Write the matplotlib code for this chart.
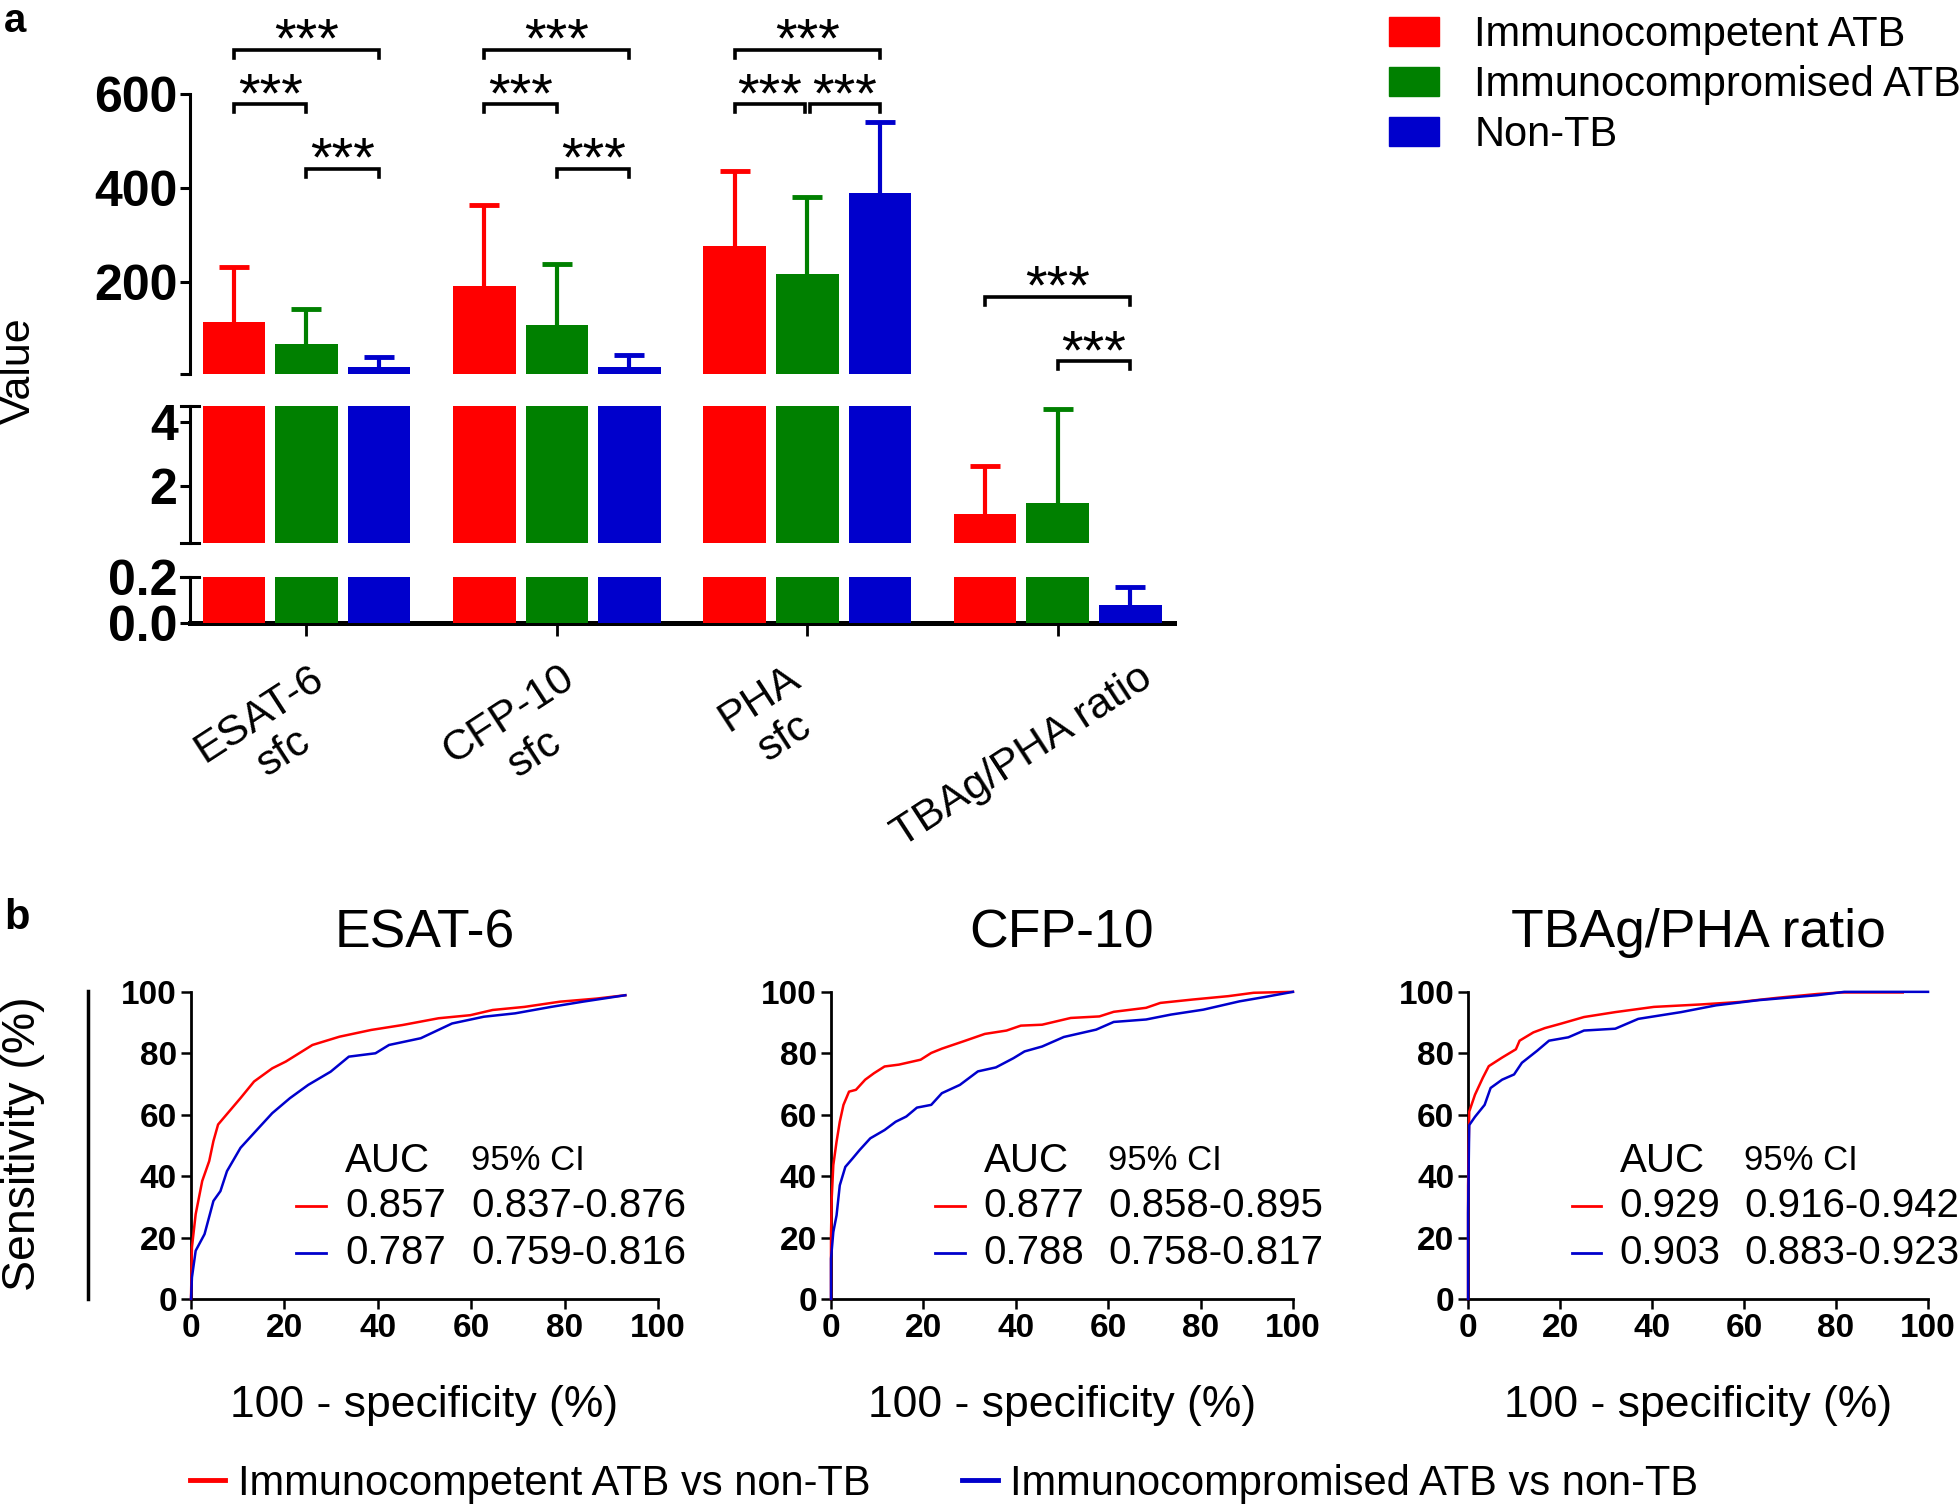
import numpy as np
import matplotlib.pyplot as plt
from matplotlib.lines import Line2D
from matplotlib.patches import Patch
from matplotlib.transforms import ScaledTranslation
plt.switch_backend('agg')

plt.rcParams['font.family'] = ['Liberation Sans', 'DejaVu Sans']

# ---- panel a data ----
groups = ['ESAT-6\nsfc', 'CFP-10\nsfc', 'PHA\nsfc', 'TBAg/PHA ratio']
series = ['Immunocompetent ATB', 'Immunocompromised ATB', 'Non-TB']
colors = ['#FF0000', '#008000', '#0000CC']
competent_mean = [115, 192, 277, 1.10]
competent_sd = [117, 173, 160, 1.51]
compromised_mean = [68, 110, 217, 1.47]
compromised_sd = [75, 129, 163, 2.94]
nontb_mean = [20, 20, 390, 0.08]
nontb_sd = [22, 25, 150, 0.077]
# brackets: (group, bar i, bar j, height)
brackets = [(0, 0, 2, 694), (0, 0, 1, 578), (0, 1, 2, 441),
            (1, 0, 2, 694), (1, 0, 1, 578), (1, 1, 2, 441),
            (2, 0, 2, 694), (2, 0, 1, 578), (2, 1, 2, 578),
            (3, 0, 2, 169), (3, 1, 2, 32)]

# ---- panel b data ----
esat_red_x = [0, 0.2, 1, 2.4, 3.9, 4.8, 5.8, 8.2, 10.6, 13.5, 17.4, 20.3, 26, 31.8, 38.6, 45.3, 53, 59.8, 64.6, 71.4, 79, 86.8, 93]
esat_red_y = [0, 16.8, 27.6, 38.4, 44.9, 51.4, 56.8, 61.1, 65.4, 70.8, 75.1, 77.3, 82.7, 85.4, 87.6, 89.2, 91.4, 92.4, 94.1, 95.1, 96.8, 97.8, 98.9]
esat_blue_x = [0, 0.2, 1, 2.9, 4.8, 6.3, 7.7, 10.6, 14.5, 17.4, 21.2, 25.1, 29.9, 33.8, 39.5, 42.4, 49.2, 55.9, 62.7, 69.4, 77.1, 83.9, 93]
esat_blue_y = [0, 7, 15.7, 21.1, 31.9, 35.1, 41.6, 49.2, 55.7, 60.5, 65.4, 69.7, 74, 78.9, 80, 82.7, 84.9, 89.7, 91.9, 93, 95.1, 96.8, 98.9]
cfp_red_x = [0, 0, 0.15, 0.5, 1.2, 1.9, 2.7, 3.9, 5.4, 7.4, 9.3, 11.6, 14.7, 19.4, 21.7, 24, 28.7, 33.3, 38, 41.1, 45.7, 51.9, 58.1, 61.2, 68.2, 71.3, 78.3, 86, 91.5, 100]
cfp_red_y = [0, 20.7, 32.7, 43.6, 51.2, 57.7, 63.2, 67.5, 68.1, 71.4, 73.5, 75.7, 76.3, 77.9, 80.1, 81.5, 83.9, 86.3, 87.4, 89, 89.3, 91.5, 92, 93.5, 94.8, 96.4, 97.5, 98.6, 99.7, 100]
cfp_blue_x = [0, 0, 0.5, 1.2, 1.9, 3.1, 4.7, 6.2, 8.5, 11.6, 14, 16.3, 18.6, 21.7, 24, 27.9, 31.8, 35.7, 39.5, 41.9, 45.7, 50.4, 57.4, 61.2, 68.2, 73.6, 80.6, 88.4, 93.8, 100]
cfp_blue_y = [0, 13.1, 21.8, 27.2, 37, 43, 45.8, 48.5, 52.3, 55, 57.7, 59.4, 62.3, 63.2, 67, 69.7, 74.1, 75.4, 78.4, 80.6, 82.2, 85.3, 87.7, 90.2, 91, 92.6, 94.2, 96.9, 98.3, 100]
ratio_red_x = [0, 0, 0.25, 1.5, 3.2, 4.5, 7.4, 10.4, 11.2, 14.2, 16.7, 20.1, 25.2, 32, 40.4, 50.6, 59, 67.5, 75.9, 81, 94.5]
ratio_red_y = [0, 36.8, 61, 66.5, 72, 75.8, 78.6, 81.3, 84.1, 86.8, 88.2, 89.6, 91.8, 93.4, 95.1, 95.9, 96.7, 98.1, 99.3, 99.8, 99.8]
ratio_blue_x = [0, 0, 0.25, 1.5, 3.6, 4.9, 7.4, 10, 11.7, 15, 17.6, 21.8, 25.2, 32, 37, 46.3, 53.9, 63.2, 75.9, 81.8, 100]
ratio_blue_y = [0, 28, 56.6, 59.3, 63.2, 68.7, 71.4, 73.1, 76.9, 80.8, 84.1, 85.2, 87.4, 88, 91.2, 93.4, 95.6, 97.3, 98.9, 100, 100]
roc_titles = ['ESAT-6', 'CFP-10', 'TBAg/PHA ratio']
roc_auc = [['0.857', '0.787'], ['0.877', '0.788'], ['0.929', '0.903']]
roc_ci = [['0.837-0.876', '0.759-0.816'], ['0.858-0.895', '0.758-0.817'], ['0.916-0.942', '0.883-0.923']]
roc_labels = ['Immunocompetent ATB vs non-TB', 'Immunocompromised ATB vs non-TB']

fig = plt.figure(figsize=(19.59, 15.06), dpi=100)

# ================= panel a =================
ax_top = fig.add_axes([0.0970, 0.7517, 0.5023, 0.1859])
ax_mid = fig.add_axes([0.0970, 0.6394, 0.5023, 0.0910])
ax_bot = fig.add_axes([0.0970, 0.5863, 0.5023, 0.0305])
seg_axes = [ax_top, ax_mid, ax_bot]
limits = [(5, 600), (0.2, 4.5), (0, 0.2)]
x = np.arange(len(groups))
offsets = [-0.29, 0, 0.29]
means = [competent_mean, compromised_mean, nontb_mean]
sds = [competent_sd, compromised_sd, nontb_sd]

for ax, lim in zip(seg_axes, limits):
    for i in range(3):
        ax.bar(x + offsets[i], means[i], 0.25, color=colors[i], zorder=3)
    ax.set_xlim(-0.465, 3.465)
    ax.set_ylim(*lim)
    for s in ['top', 'right', 'bottom']:
        ax.spines[s].set_visible(False)
    ax.spines['left'].set_linewidth(2.2)
    ax.tick_params(axis='y', length=7, width=2.2, pad=2, labelsize=36)
    ax.tick_params(axis='x', bottom=False, labelbottom=False)

# error bars only in the segment that holds the bar top
for i in range(3):
    for g in range(len(groups)):
        m, s = means[i][g], sds[i][g]
        for ax, lim in zip(seg_axes, limits):
            if lim[0] < m <= lim[1]:
                eb = ax.errorbar(x[g] + offsets[i], m, yerr=[[0], [s]], fmt='none', ecolor=colors[i],
                                 elinewidth=3, capsize=11, capthick=3.5, zorder=2)
                eb[1][0].set_visible(False)

ax_top.set_yticks([5, 200, 400, 600], ['', '200', '400', '600'], fontweight='bold')
ax_mid.set_yticks([2, 4], ['2', '4'], fontweight='bold')
ax_bot.set_yticks([0, 0.2], ['0.0', '0.2'], fontweight='bold')

# end caps of the broken axis
d = 0.009
for ax, ys in [(ax_mid, [0.2, 4.5]), (ax_bot, [0.2])]:
    for yv in ys:
        ax.plot([-d, d], [yv, yv], color='black', lw=2.2, transform=ax.get_yaxis_transform(), clip_on=False)

ax_bot.spines['bottom'].set_visible(True)
ax_bot.spines['bottom'].set_linewidth(3.6)
ax_bot.tick_params(axis='x', bottom=True, labelbottom=True, length=9, width=2, pad=16, labelsize=31)
ax_bot.set_xticks(x, groups, rotation=33, ha='center', multialignment='center')
for lbl in ax_bot.get_xticklabels():
    lbl.set_transform(lbl.get_transform() + ScaledTranslation(-0.35, 0, fig.dpi_scale_trans))

# significance brackets
drop = 17
for g, i, j, h in brackets:
    x1 = g + offsets[i] + (0.01 if (g == 2 and i == 1) else 0)
    x2 = g + offsets[j] - (0.01 if (g == 2 and j == 1) else 0)
    ax_top.plot([x1, x1, x2, x2], [h - drop, h, h, h - drop], color='black', lw=2.6, clip_on=False,
                solid_joinstyle='miter')
    ax_top.annotate('***', ((x1 + x2) / 2, h), xytext=(0, -5), textcoords='offset points',
                    ha='center', va='baseline', fontsize=40, annotation_clip=False)

fig.text(19 / 1959, 1 - 371 / 1506, 'Value', rotation=90, ha='center', va='center', fontsize=31)
fig.text(4 / 1959, 1 - 21 / 1506, 'a', fontsize=29, fontweight='bold', ha='left', va='center')

fig.legend(handles=[Patch(color=c) for c in colors], labels=series, loc='upper left',
           bbox_to_anchor=(1389 / 1959, 1 - 15 / 1506), frameon=False, fontsize=30,
           handlelength=1.2, handleheight=0.7, handletextpad=0.85, labelspacing=0.24,
           borderaxespad=0, borderpad=0)

# ================= panel b =================
roc_x = [(esat_red_x, esat_blue_x), (cfp_red_x, cfp_blue_x), (ratio_red_x, ratio_blue_x)]
roc_y = [(esat_red_y, esat_blue_y), (cfp_red_y, cfp_blue_y), (ratio_red_y, ratio_blue_y)]
lefts = [0.0975, 0.4242, 0.7494]
widths = [0.2384, 0.2358, 0.2348]
line_colors = ['#FF0000', '#0000CC']
for k in range(3):
    ax = fig.add_axes([lefts[k], 0.1375, widths[k], 0.2039])
    for c in range(2):
        ax.plot(roc_x[k][c], roc_y[k][c], color=line_colors[c], lw=1.8, clip_on=False, zorder=3)
    ax.set_xlim(0, 100)
    ax.set_ylim(0, 100)
    ax.set_xticks(np.arange(0, 101, 20))
    ax.set_yticks(np.arange(0, 101, 20))
    for s in ['top', 'right']:
        ax.spines[s].set_visible(False)
    for s in ['left', 'bottom']:
        ax.spines[s].set_linewidth(2)
    ax.tick_params(length=7, width=1.8, pad=3, labelsize=24)
    for lbl in ax.get_xticklabels() + ax.get_yticklabels():
        lbl.set_fontweight('bold')
    ax.set_title(roc_titles[k], fontsize=38.5, pad=32)
    ax.set_xlabel('100 - specificity (%)', fontsize=32, labelpad=30)
    ax.text(33, 45, 'AUC', fontsize=29, ha='left', va='center')
    ax.text(60, 45, '95% CI', fontsize=25, ha='left', va='center')
    for c, yy in enumerate([30.3, 14.8]):
        ax.plot([22.5, 29], [yy, yy], color=line_colors[c], lw=2)
        ax.text(33, yy, roc_auc[k][c], fontsize=29, ha='left', va='center')
        ax.text(60, yy, roc_ci[k][c], fontsize=29, ha='left', va='center')

fig.text(23 / 1959, 1 - 1144 / 1506, 'Sensitivity (%)', rotation=90, ha='center', va='center', fontsize=33.5)
fig.add_artist(Line2D([87.5 / 1959, 87.5 / 1959], [1 - 991 / 1506, 1 - 1299 / 1506], color='black', lw=2.5))
fig.text(4 / 1959, 1 - 918 / 1506, 'b', fontsize=30, fontweight='bold', ha='left', va='center')

fig.legend(handles=[Line2D([], [], color=c, lw=3.5) for c in line_colors], labels=roc_labels,
           loc='center left', bbox_to_anchor=(190 / 1959, 1 - 1484 / 1506), ncol=2, frameon=False,
           fontsize=30, handlelength=0.85, handletextpad=0.3, columnspacing=2.2,
           borderaxespad=0, borderpad=0)

fig.savefig('out.png', dpi=100)
